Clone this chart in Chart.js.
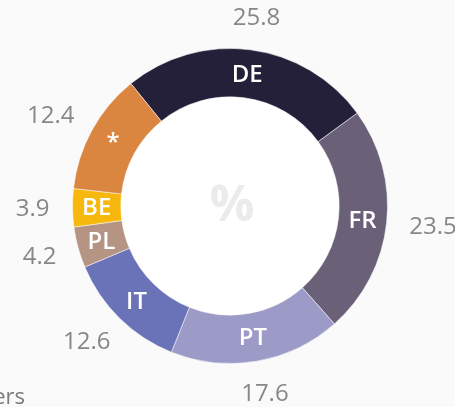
<!DOCTYPE html>
<html>
<head>
<meta charset="utf-8">
<script src="https://cdn.jsdelivr.net/npm/chart.js@4"></script>
<style>
  html, body { margin:0; padding:0; background:#fafafa; width:455px; height:407px; overflow:hidden; position:relative; }
  #wrap { position:absolute; left:0; top:0; width:455px; height:407px; }
  #note { position:absolute; right:430px; top:380px; white-space:nowrap; font-family:"Open Sans", sans-serif; font-size:22px; color:#7a7a7a; font-weight:400; }
</style>
</head>
<body>
<div id="wrap"><canvas id="c" width="455" height="407"></canvas></div>
<div id="note">* Others</div>
<script>
const categories = ["DE", "FR", "PT", "IT", "PL", "BE", "*"];
const values = [25.8, 23.5, 17.6, 12.6, 4.2, 3.9, 12.4];
const valueLabels = ["25.8", "23.5", "17.6", "12.6", "4.2", "3.9", "12.4"];
const colors = ["#24203a", "#6a6178", "#9c9ac6", "#6a73b8", "#b59484", "#f6b80d", "#da8640"];
const centerText = "%";

const ringPlugin = {
  id: 'ringPlugin',
  beforeDatasetsDraw(chart) {
    const arc = chart.getDatasetMeta(0).data[0];
    if (!arc) return;
    const {x, y, innerRadius} = arc.getProps(['x','y','innerRadius'], true);
    const ctx = chart.ctx;
    ctx.save();
    ctx.beginPath();
    ctx.arc(x, y, innerRadius, 0, Math.PI*2);
    ctx.fillStyle = '#ffffff';
    ctx.fill();
    ctx.font = '700 50px "Open Sans", sans-serif';
    ctx.fillStyle = '#ebebeb';
    ctx.textAlign = 'center';
    ctx.textBaseline = 'middle';
    ctx.fillText(centerText, x + 2, y + 1);
    ctx.restore();
  },
  afterDatasetsDraw(chart) {
    const ctx = chart.ctx;
    const meta = chart.getDatasetMeta(0);
    ctx.save();
    meta.data.forEach((el, i) => {
      const p = el.getProps(['x','y','startAngle','endAngle','innerRadius','outerRadius'], true);
      const mid = (p.startAngle + p.endAngle) / 2;
      const dx = Math.cos(mid), dy = Math.sin(mid);
      // inside label
      const rm = (p.innerRadius + p.outerRadius) / 2;
      ctx.font = '600 24px "Open Sans", sans-serif';
      ctx.fillStyle = '#ffffff';
      ctx.textAlign = 'center';
      ctx.textBaseline = 'middle';
      ctx.fillText(categories[i], p.x + dx * rm, p.y + dy * rm + 1);
      // outside value
      ctx.font = '400 24px "Open Sans", sans-serif';
      ctx.fillStyle = '#878787';
      const txt = valueLabels[i];
      const w = ctx.measureText(txt).width;
      const h = 19;
      const ro = p.outerRadius + 23;
      const cx = p.x + dx * ro + dx * w / 2;
      const cy = p.y + dy * ro + dy * h / 2;
      ctx.fillText(txt, cx, cy + 1);
    });
    ctx.restore();
  }
};

new Chart(document.getElementById('c'), {
  type: 'doughnut',
  data: {
    labels: categories,
    datasets: [{
      data: values,
      backgroundColor: colors,
      borderColor: 'rgba(255,255,255,0.5)',
      borderWidth: 1
    }]
  },
  options: {
    responsive: false,
    animation: false,
    rotation: -39,
    cutout: '69.3%',
    layout: { padding: { top: 48, bottom: 43, left: 72, right: 67 } },
    plugins: { legend: { display: false }, tooltip: { enabled: false } }
  },
  plugins: [ringPlugin]
});
</script>
</body>
</html>
